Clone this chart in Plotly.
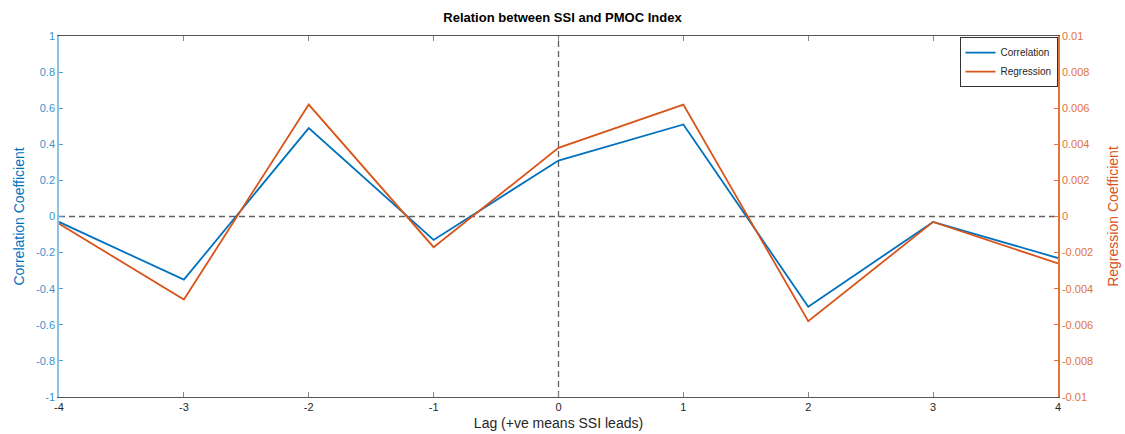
import plotly.graph_objects as go

lags = [-4, -3, -2, -1, 0, 1, 2, 3, 4]
lag_labels = ["-4", "-3", "-2", "-1", "0", "1", "2", "3", "4"]
correlation = [-0.03, -0.35, 0.49, -0.13, 0.31, 0.51, -0.50, -0.03, -0.23]
regression = [-0.0004, -0.0046, 0.0062, -0.0017, 0.0038, 0.0062, -0.0058, -0.0003, -0.0026]

left_ticks = [-1, -0.8, -0.6, -0.4, -0.2, 0, 0.2, 0.4, 0.6, 0.8, 1]
left_labels = ["-1", "-0.8", "-0.6", "-0.4", "-0.2", "0", "0.2", "0.4", "0.6", "0.8", "1"]
right_ticks = [-0.01, -0.008, -0.006, -0.004, -0.002, 0, 0.002, 0.004, 0.006, 0.008, 0.01]
right_labels = ["-0.01", "-0.008", "-0.006", "-0.004", "-0.002", "0", "0.002", "0.004", "0.006", "0.008", "0.01"]

BLUE = "#0072BD"
ORANGE = "#D95319"
FONT = "Liberation Sans, Arial, sans-serif"

fig = go.Figure()
fig.add_trace(go.Scatter(x=lags, y=correlation, mode="lines", name="Correlation",
                         line=dict(color=BLUE, width=1.8)))
fig.add_trace(go.Scatter(x=lags, y=regression, mode="lines", name="Regression",
                         line=dict(color=ORANGE, width=1.8), yaxis="y2"))

fig.add_shape(type="line", xref="x", yref="y", x0=-4, x1=4, y0=0, y1=0,
              line=dict(color="#606060", width=1.3, dash="6px,4px"), layer="below")
fig.add_shape(type="line", xref="x", yref="y", x0=0, x1=0, y0=-1, y1=1,
              line=dict(color="#606060", width=1.3, dash="6px,4px"), layer="below")

fig.update_layout(
    width=1125, height=434,
    margin=dict(l=59, r=67, t=36, b=37),
    paper_bgcolor="white", plot_bgcolor="white",
    font=dict(family=FONT, size=11, color="#262626"),
    title=dict(text="<b>Relation between SSI and PMOC Index</b>", x=0.5, xanchor="center",
               y=0.96, yanchor="middle", font=dict(size=13, color="#000000")),
    showlegend=True,
    legend=dict(x=0.9995, xanchor="right", y=0.997, yanchor="top",
                bordercolor="#333333", borderwidth=1, bgcolor="white",
                font=dict(size=10, color="#262626"), tracegroupgap=0),
    xaxis=dict(range=[-4, 4], tickvals=lags, ticktext=lag_labels, ticks="inside", ticklen=5,
               tickcolor="#888888", automargin=False,
               showline=True, linecolor="#555555", linewidth=1, mirror="ticks",
               showgrid=False, zeroline=False,
               tickfont=dict(size=11, color="#262626"),
               title=dict(text="Lag (+ve means SSI leads)", font=dict(size=14, color="#262626"), standoff=5)),
    yaxis=dict(range=[-1, 1], tickvals=left_ticks, ticktext=left_labels, ticks="inside", ticklen=4,
               tickcolor="#4d9fd6", showline=True, linecolor="#8cc2e6", linewidth=1.5,
               showgrid=False, zeroline=False, automargin=False,
               tickfont=dict(size=11, color="#3a92d0"),
               title=dict(text="Correlation Coefficient", font=dict(size=14, color=BLUE), standoff=8)),
    yaxis2=dict(range=[-0.01, 0.01], tickvals=right_ticks, ticktext=right_labels, overlaying="y",
                side="right", ticks="inside", ticklen=4, tickcolor="#e0733e",
                showline=True, linecolor="#e0733e", linewidth=1.5,
                showgrid=False, zeroline=False, automargin=False,
                tickfont=dict(size=11, color="#e0733e"),
                title=dict(text="Regression Coefficient", font=dict(size=14, color=ORANGE), standoff=16)),
)

fig.write_html("out.html")
